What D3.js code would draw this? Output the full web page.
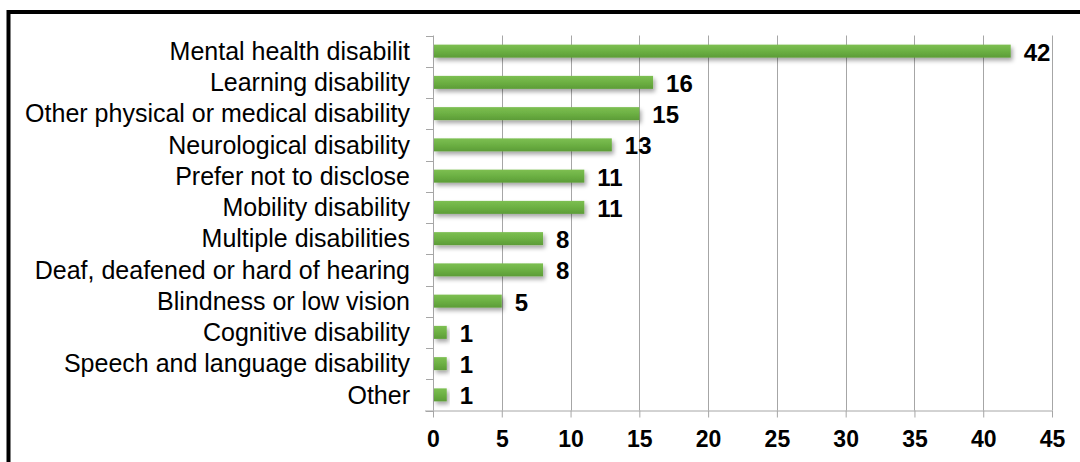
<!DOCTYPE html>
<html><head><meta charset="utf-8">
<script src="https://cdn.jsdelivr.net/npm/d3@7"></script>
<style>body{margin:0;background:#fff}svg{display:block}</style>
</head><body>
<svg id="c" width="1080" height="462"></svg>
<script>
const categories = ["Mental health disabilit","Learning disability","Other physical or medical disability","Neurological disability","Prefer not to disclose","Mobility disability","Multiple disabilities","Deaf, deafened or hard of hearing","Blindness or low vision","Cognitive disability","Speech and language disability","Other"];
const values = [42,16,15,13,11,11,8,8,5,1,1,1];
const xTicks = [0,5,10,15,20,25,30,35,40,45];

const svg = d3.select("#c");
const m = {l:433, r:1052, t:35.5, b:410.5};
const x = d3.scaleLinear().domain([0,45]).range([m.l,m.r]);
const y = d3.scaleBand().domain(categories).range([m.t,m.b]);

const defs = svg.append("defs");
const g = defs.append("linearGradient").attr("id","bg").attr("x1",0).attr("y1",0).attr("x2",0).attr("y2",1);
g.append("stop").attr("offset","0%").attr("stop-color","#7dbf52");
g.append("stop").attr("offset","50%").attr("stop-color","#6cb043");
g.append("stop").attr("offset","100%").attr("stop-color","#5c9c37");
const f = defs.append("filter").attr("id","sh").attr("x","-10%").attr("y","-50%").attr("width","130%").attr("height","250%");
f.append("feDropShadow").attr("dx",2).attr("dy",3).attr("stdDeviation",2).attr("flood-color","#000").attr("flood-opacity",0.35);

// frame
svg.append("rect").attr("x",8.5).attr("y",12).attr("width",1100).attr("height",500)
  .attr("fill","none").attr("stroke","#000").attr("stroke-width",4);

// grid
svg.append("g").selectAll("line").data(xTicks.slice(1)).join("line")
  .attr("x1",d=>Math.round(x(d))+0.5).attr("x2",d=>Math.round(x(d))+0.5)
  .attr("y1",m.t).attr("y2",m.b).attr("stroke","#a6a6a6").attr("stroke-width",1);

// x axis
const xa = svg.append("g").attr("transform",`translate(0,${m.b})`)
  .call(d3.axisBottom(x).tickValues(xTicks).tickSize(7).tickPadding(13));
xa.select(".domain").attr("stroke","#a6a6a6").attr("d",`M${m.l-8},0.5H${m.r}`);
xa.selectAll(".tick line").attr("stroke","#a6a6a6");
xa.selectAll(".tick text").attr("font-family","Liberation Sans, Arial, sans-serif").attr("font-weight","bold")
  .attr("font-size","23px").attr("fill","#000");

// y axis
const ya = svg.append("g").attr("transform",`translate(${m.l},0)`);
ya.append("line").attr("x1",0.5).attr("x2",0.5).attr("y1",m.t).attr("y2",m.b).attr("stroke","#a6a6a6");
const bounds = d3.range(categories.length+1).map(i=>m.t+i*y.step());
ya.selectAll("line.tk").data(bounds).join("line").attr("class","tk")
  .attr("x1",-7).attr("x2",0).attr("y1",d=>Math.round(d)+0.5).attr("y2",d=>Math.round(d)+0.5).attr("stroke","#a6a6a6");
ya.selectAll("text").data(categories).join("text")
  .attr("x",-23).attr("y",d=>y(d)+y.bandwidth()/2).attr("dy","0.35em")
  .attr("text-anchor","end").attr("font-family","Liberation Sans, Arial, sans-serif")
  .attr("font-size","25px").attr("fill","#000").text(d=>d);

// bars
const bh = 13;
svg.append("g").selectAll("rect").data(values).join("rect")
  .attr("x",x(0)+1).attr("y",(d,i)=>y(categories[i])+y.bandwidth()/2-bh/2)
  .attr("width",d=>x(d)-x(0)-1).attr("height",bh)
  .attr("fill","url(#bg)").attr("filter","url(#sh)");

// value labels
svg.append("g").selectAll("text").data(values).join("text")
  .attr("x",d=>x(d)+13).attr("y",(d,i)=>y(categories[i])+y.bandwidth()/2).attr("dy","0.4em")
  .attr("font-family","Liberation Sans, Arial, sans-serif").attr("font-weight","bold")
  .attr("font-size","24px").attr("fill","#000").text(d=>d);
</script>
</body></html>
